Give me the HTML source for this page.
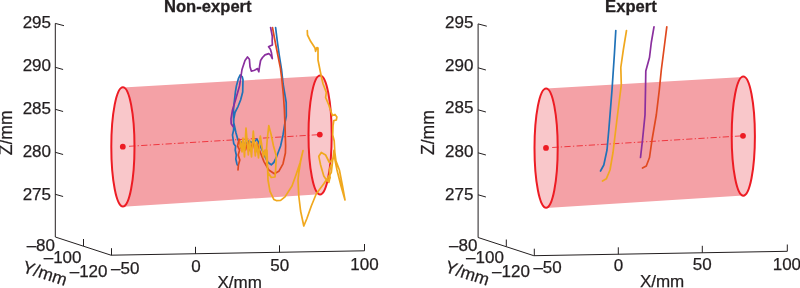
<!DOCTYPE html>
<html><head><meta charset="utf-8"><title>Non-expert vs Expert trajectories</title>
<style>
html,body{margin:0;padding:0;background:#fff;}
body{width:800px;height:288px;overflow:hidden;}
svg{display:block;}
text{font-family:"Liberation Sans",Arial,Helvetica,sans-serif;font-size:17px;fill:#231f20;stroke:#231f20;stroke-width:0.25px;}
.t{font-weight:bold;font-size:16.6px;stroke-width:0.3px;}
.ax{stroke:#231f20;stroke-width:1;fill:none;stroke-linecap:butt;}
.body{fill:#f4a1a6;stroke:none;}
.cap{fill:#f9c7ca;stroke:#ed1c24;stroke-width:2;}
.dd{stroke:#ed1c24;stroke-width:0.8;stroke-dasharray:6.3 2.3 1.3 2.3;fill:none;}
.dot{fill:#ed1c24;}
.c{fill:none;stroke-width:1.7;stroke-linejoin:round;stroke-linecap:round;}
.bl{stroke:#1f72b8;}
.or{stroke:#e0491f;}
.ye{stroke:#f0a81e;}
.pu{stroke:#8a2f9e;}
</style></head>
<body>
<svg width="800" height="288" viewBox="0 0 800 288">

<!-- left panel -->
<g>
  <path class="ax" d="M64,25.7 L55.3,23.4 L55.3,237 L111,255.2 L364.5,250.8 L364.5,244"/>
  <path class="ax" d="M55.3,67.3 l7.8,2.2 M55.3,109.3 l7.8,2.2 M55.3,152.3 l7.8,2.2 M55.3,194.3 l7.8,2.2"/>
  <path class="ax" d="M83.5,246 v-7 M111.5,255.2 v-7 M195.5,253.8 v-7 M279.5,252.3 v-7"/>
</g>
<g>
  <text x="51" y="27.9" text-anchor="end">295</text>
  <text x="51" y="71.2" text-anchor="end">290</text>
  <text x="51" y="113.6" text-anchor="end">285</text>
  <text x="51" y="157" text-anchor="end">280</text>
  <text x="51" y="200.2" text-anchor="end">275</text>
  <text x="55" y="250.8" text-anchor="end">–80</text>
  <text x="81.5" y="263" text-anchor="end">–100</text>
  <text x="107.5" y="277.2" text-anchor="end">–120</text>
  <text x="111" y="273.5">–50</text>
  <text x="196" y="271.5" text-anchor="middle">0</text>
  <text x="279.8" y="270.5" text-anchor="middle">50</text>
  <text x="350.3" y="270">100</text>
  <text x="217.5" y="287.7">X/mm</text>
  <text transform="translate(21.5,272) rotate(18)" style="font-size:17.4px">Y/mm</text>
  <text transform="translate(11.8,155.2) rotate(-90)" style="font-size:17.5px">Z/mm</text>
</g>
<g>
  <path class="body" d="M123,87.4 L320,75.9 L320,194.3 L123,206.7 Z"/>
  <ellipse class="cap" cx="122.9" cy="146.85" rx="11.6" ry="59.65"/>
  <ellipse class="cap" cx="320.1" cy="134.95" rx="11.6" ry="59.55"/>
  <path class="dd" d="M129,146.3 L319.8,134.6"/>
  <circle class="dot" cx="122.8" cy="146.7" r="2.9"/>
  <circle class="dot" cx="319.8" cy="134.6" r="2.9"/>
</g>
<text class="t" x="164" y="12.2">Non-expert</text>

<!-- non-expert trajectories -->
<path class="c bl" d="M275.6,27.5 L277.4,42 L279.4,56 L281.6,70 L283.1,84 L284.8,94 L286.2,102.5 L286.3,116 L285,122.5 L283,135 L280.6,146 L276.3,157.5 L273.8,162.5 L271.3,164.8 L268,162.5 L265,156.5 L262,150 L257,139 L253,143 L249,141 L245,144 L241,142 L238,140 L236,133 L233.6,122 L233.4,112 L233.8,106 L235.4,92 L236.4,86 L238.5,78.3 L240.2,75 L242.3,76.9 L243,79.6 L242.7,92 L240.6,100 L238.1,106.3 L235,112.5 L233.8,118.8 L233.6,130 L232.5,135 L233.8,143.8 L235.6,146.3 L235.2,150 L236.3,155 L235.8,159 L236.9,163.8 L237.5,165"/>
<path class="c or" d="M272.5,27.5 L275.2,42 L278,56 L280.4,68 L281.9,80 L283.4,95 L284.4,110 L285,125 L285.6,146 L285.4,153 L283,163.8 L278.8,171.3 L274.4,173.8 L268.8,170 L263.8,161.3 L259.4,150 L257,143 L255.5,152 L253,141 L250.5,151 L248,141.5 L245.5,150 L243,141 L241,148 L239,139 L238.8,140 L237.6,146 L239.6,150 L238.2,155 L239.8,160 L238.4,165 L238,170"/>
<path class="c ye" d="M307.3,30.6 L307.5,35 L310.6,41.3 L315,48 L315.6,51.3 L316.9,47.5 L318,48 L318,60 L320,70 L321.3,76.3 L323,83.8 L326.3,92.5 L325.6,97.5 L328.8,105 L331.3,112.5 L332.5,115.6 L335,114.4 L336.9,116.9 L336.3,120 L333.8,120.6 L333,126 L332.7,135 L334.2,141 L334.8,152 L336,161 L339.4,170 L342.5,186 L345,200 L341,186 L337,170 L335,160 L334,150 L333,158 L331.3,172.5 L323.8,183.8 L316.3,193.8 L311.3,206 L306.9,218.5 L303.8,226 L300.6,211 L298.8,196 L298,180 L298.8,172.5 L300.5,162 L303,150.6 L300,163 L296.3,174 L292,186 L289.4,190 L285,196.9 L280.6,200.3 L276.3,200.6 L273.8,199.4 L270,191.3 L268,180 L267.5,165 L267,150 L266.3,152.5 L267.2,140 L268.8,125.6 L271,134 L273.5,146 L276.3,156 L276,162.5 L275.6,170 L275,177 L271.3,177.5 L268,172.5 L266.5,160 L265,150 L263.5,157 L260.3,136 L258.5,158 L256.5,142 L255.3,156 L253.3,131 L251.5,157 L249.5,140 L248.3,155 L246,128 L244.5,157 L243,138 L242,152 L240.5,141 L240.3,147"/>
<path class="c ye" d="M333.5,158 L332,160 L329.4,162.5 L325.6,155 L321.3,152.5 L318.8,156.3 L320.6,165 L323.8,176 L325.6,178.8 L327.5,181 L330,177.5 L329.4,170 L331,165"/>
<path class="c ye" d="M330,177.5 L328.8,182.5"/>
<path class="c pu" d="M270.6,27.5 L271.5,32 L272.3,36.3 L272.2,41 L272.4,45 L270,46 L268.6,46.8 L270.4,49.2 L271.5,53 L272.3,58.6 L270.8,55.5 L268.8,53.6 L265,54.9 L262.5,57.5 L260.6,60.5 L259.6,66 L258.8,71.8 L257.5,68.6 L255.5,69.8 L253.8,70.5 L251.3,71.1 L250,66.8 L249.4,59.3 L247.5,57 L245,60.5 L242.5,68 L241.9,70 L240.6,79 L239.5,86 L237.8,92 L235.5,100 L232.5,110 L231,118.8 L231.2,123.8 L233,126.5"/>

<!-- right panel -->
<g transform="translate(422.8,0.5)">
  <path class="ax" d="M64,25.7 L55.3,23.4 L55.3,237 L111,255.2 L364.5,250.8 L364.5,244"/>
  <path class="ax" d="M55.3,67.3 l7.8,2.2 M55.3,109.3 l7.8,2.2 M55.3,152.3 l7.8,2.2 M55.3,194.3 l7.8,2.2"/>
  <path class="ax" d="M83.5,246 v-7 M111.5,255.2 v-7 M195.5,253.8 v-7 M279.5,252.3 v-7"/>
</g>
<g transform="translate(422.4,-0.2)">
  <text x="51" y="27.9" text-anchor="end">295</text>
  <text x="51" y="71.2" text-anchor="end">290</text>
  <text x="51" y="113.6" text-anchor="end">285</text>
  <text x="51" y="157" text-anchor="end">280</text>
  <text x="51" y="200.2" text-anchor="end">275</text>
  <text x="55" y="250.8" text-anchor="end">–80</text>
  <text x="81.5" y="263" text-anchor="end">–100</text>
  <text x="107.5" y="277.2" text-anchor="end">–120</text>
  <text x="111" y="273.5">–50</text>
  <text x="196" y="271.5" text-anchor="middle">0</text>
  <text x="279.8" y="270.5" text-anchor="middle">50</text>
  <text x="350.3" y="270">100</text>
  <text x="217.5" y="287.7">X/mm</text>
  <text transform="translate(21.5,272) rotate(18)" style="font-size:17.4px">Y/mm</text>
  <text transform="translate(11.8,155.2) rotate(-90)" style="font-size:17.5px">Z/mm</text>
</g>
<g transform="translate(423.2,1.2)">
  <path class="body" d="M123,87.4 L320,75.9 L320,194.3 L123,206.7 Z"/>
  <ellipse class="cap" cx="122.9" cy="146.85" rx="11.6" ry="59.65"/>
  <ellipse class="cap" cx="320.1" cy="134.95" rx="11.6" ry="59.55"/>
  <path class="dd" d="M129,146.3 L319.8,134.6"/>
  <circle class="dot" cx="122.8" cy="146.7" r="2.9"/>
  <circle class="dot" cx="319.8" cy="134.6" r="2.9"/>
</g>
<text class="t" x="605.1" y="12.2">Expert</text>

<!-- expert trajectories -->
<path class="c bl" d="M615.8,30.5 L614.5,52.5 L612.5,82.5 L612,90 L608.8,130 L607,150 L603.8,165 L600.5,171"/>
<path class="c ye" d="M626.5,30.5 L623.3,50 L620.8,67.5 L621.3,85 L617.5,115 L614.5,140 L613,152.5 L610,170 L606.3,178.8 L602.5,181"/>
<path class="c pu" d="M654,26.8 L651.3,42.5 L649.5,57.5 L645.8,71 L645.5,90 L645,115 L642.5,140 L640.5,157.5"/>
<path class="c or" d="M666.8,26.8 L664.5,45 L661.3,70 L659.3,90 L656.3,115 L652,140 L649.5,157.5 L646.3,166 L642.5,168"/>
</svg>
</body></html>
